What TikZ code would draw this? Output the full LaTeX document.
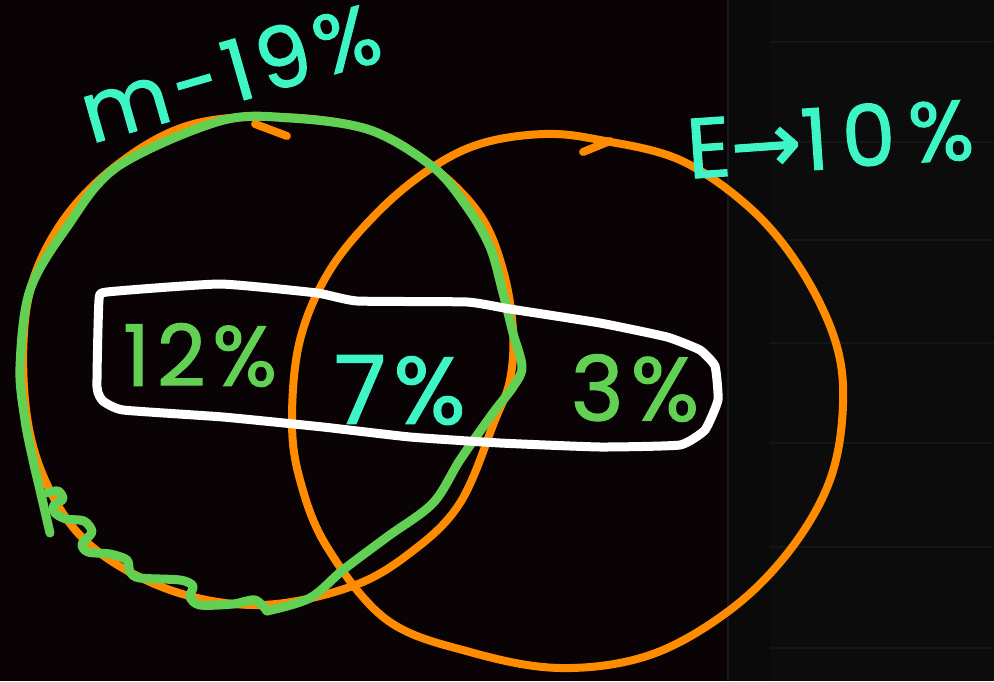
\documentclass[tikz,border=0pt]{standalone}
\usepackage{fontspec}
\setmainfont{Poppins}
\newfontfamily\handfont{Poppins}[FakeBold=1.3, LetterSpace=8]
\newfontfamily\widehandfont{Poppins}[FakeBold=1.3, LetterSpace=16]
\newfontfamily\arrowfont{DejaVu Sans}[FakeBold=1.3]
\definecolor{bgdark}{RGB}{10,3,5}
\definecolor{bgright}{RGB}{10,10,10}
\definecolor{bgpanel}{RGB}{12,12,12}
\definecolor{gridline}{RGB}{22,22,22}
\definecolor{sepline}{RGB}{22,24,36}
\definecolor{aqua}{RGB}{62,245,197}
\definecolor{leaf}{RGB}{98,209,83}
\definecolor{amber}{RGB}{255,140,0}
\tikzset{
  orangeloop/.style={draw=amber, line width=8pt, line cap=round, line join=round},
  greenloop/.style={draw=leaf, line width=9pt, line cap=round, line join=round},
  whitebox/.style={draw=white, line width=9pt, line cap=round, line join=round},
  hand/.style={inner sep=0pt, font=\handfont\fontsize{85}{90}\selectfont},
}
\begin{document}
\begin{tikzpicture}[x=1pt,y=-1pt]
\useasboundingbox (0,0) rectangle (994,681);
% background
\fill[bgdark] (0,0) rectangle (994,681);
\fill[bgright] (729,0) rectangle (994,681);
\fill[bgpanel] (770,0) rectangle (994,681);
\draw[sepline, line width=2pt] (728,0) -- (728,681);
\foreach \yy in {42,142,240,343,443,547,648}
  \draw[gridline, line width=2pt] (770,\yy) -- (994,\yy);

% left orange circle (M)
\draw[orangeloop] plot[smooth cycle, tension=0.6] coordinates {
 (280,117) (370,130) (433,167) (480,215) (503,270) (513,330) (510,380)
 (495,420) (460,503) (410,553) (350,587) (260,605) (170,590) (90,545)
 (45,480) (25,400) (28,300) (60,225) (117,165) (190,125)};
\draw[orangeloop] (255,124) -- (287,136);

% right orange circle (E)
\draw[orangeloop] plot[smooth cycle, tension=0.6] coordinates {
 (600,140) (680,160) (750,208) (800,268) (835,340) (843,405) (830,480)
 (790,550) (730,610) (650,655) (560,668) (470,652) (387,620) (327,547)
 (300,480) (292,420) (300,340) (330,270) (380,210) (433,167) (483,143) (545,134)};
\draw[orangeloop] (583,152) -- (610,141);

% green hand-drawn loop over M
\draw[greenloop] plot[smooth, tension=0.55] coordinates {
 (50,533) (40,490) (33,460) (25,420) (20,367) (30,290) (67,227) (117,167)
 (220,121) (290,118) (370,130) (433,167) (467,207) (490,247) (503,293)
 (513,333) (522,367) (513,387) (493,413) (460,460) (433,503) (387,537)
 (343,570) (310,598) (267,611)};
\draw[greenloop] plot[smooth, tension=0.5] coordinates {
 (267,611) (255,600) (233,604) (200,605) (190,597) (193,586) (180,580)
 (140,578) (130,572) (127,560) (110,554) (88,552) (82,544) (92,532)
 (84,521) (66,519) (55,513) (54,505) (63,499) (58,491) (47,493)};

% white box
\draw[whitebox] plot[smooth cycle, tension=0.25] coordinates {
 (107,292) (220,284) (317,293) (357,301) (467,302)
 (510,309) (600,323) (667,337) (700,350) (715,366) (718,400)
 (705,430) (680,445) (600,447) (500,443) (410,437) (323,427) (223,417)
 (123,410) (103,401) (97,387) (99,300)};

% labels
\node[hand, text=aqua, rotate=16] (mlabel) at (230,72) {m-19\%};
\node[hand, text=aqua, rotate=4, font=\widehandfont\fontsize{85}{90}\selectfont] (elabel) at (830,138) {E{\arrowfont→}10\%};
\node[hand, text=leaf] (twelve) at (200,355) {12\%};
\node[hand, text=aqua, font=\handfont\fontsize{95}{100}\selectfont] (seven) at (400,390) {7\%};
\node[hand, text=leaf, font=\handfont\fontsize{90}{95}\selectfont] (three) at (635,388) {3\%};
\end{tikzpicture}
\end{document}
